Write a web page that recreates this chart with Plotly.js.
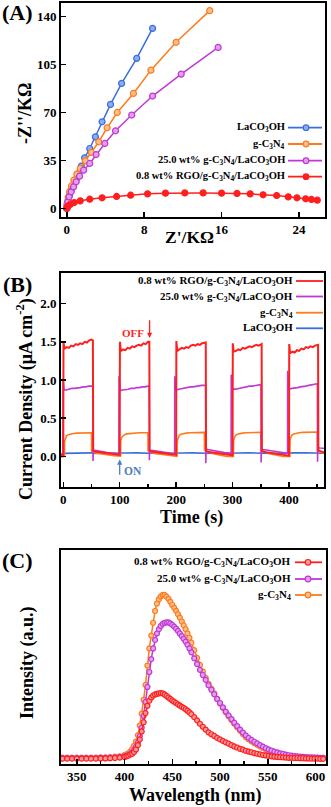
<!DOCTYPE html>
<html>
<head>
<meta charset="utf-8">
<script src="https://cdn.plot.ly/plotly-3.0.1.min.js"></script>
<style>
  html, body { margin: 0; padding: 0; background: #fff; }
  #chart { width: 331px; height: 807px; }
</style>
</head>
<body>
<div id="chart"></div>
<script>
// ---- (A) Nyquist plots, Z' and -Z'' in kOhm ----
const nyqBlueX = [0, 0.03, 0.14, 0.28, 0.45, 0.7, 0.97, 1.22, 1.5, 1.84, 2.37, 2.96, 3.65, 4.52, 5.67, 7.23, 8.87];
const nyqBlueY = [0, 2.4, 6, 9.7, 13.4, 17, 21.2, 25.6, 30.9, 37, 43.8, 52.3, 63.3, 76, 91.3, 109.6, 131.5];
const nyqOrangeX = [0, 0.03, 0.14, 0.28, 0.49, 0.73, 1.04, 1.39, 1.91, 2.54, 3.3, 4.17, 5.22, 6.89, 8.7, 11.3, 14.78];
const nyqOrangeY = [0, 3.7, 8, 12.2, 16.6, 20.7, 25.1, 29.2, 34.8, 40.9, 48.7, 58.9, 70.1, 84, 101, 121.3, 144.4];
const nyqPurpleX = [0, 0.02, 0.1, 0.24, 0.45, 0.7, 0.97, 1.32, 1.74, 2.37, 3.03, 3.93, 5.04, 6.71, 8.87, 11.83, 15.65];
const nyqPurpleY = [0, 1.2, 4.9, 8.5, 12.2, 15.8, 19.5, 23.6, 28, 32.9, 39.4, 47.5, 56.7, 68.2, 82.1, 98.1, 117.6];
const nyqRedX = [0, 0.1, 0.35, 0.77, 1.39, 2.37, 3.65, 5.15, 6.6, 8.35, 10.2, 12.2, 14.1, 16, 17.6, 18.96, 20.3, 21.7, 22.9, 23.8, 24.7, 25.3, 25.9];
const nyqRedY = [0.2, 1.7, 2.9, 4.4, 5.6, 6.8, 7.8, 8.8, 9.7, 10.7, 11.2, 11.4, 11.4, 11.2, 11, 10.7, 10, 9.5, 8.5, 7.8, 7.1, 6.6, 6.1];

// ---- (B) transient photocurrent, time (s) / current density ----
const tRed = [-4, 0, 0.4, 2, 6, 10, 14, 18, 22, 26, 30, 34, 38, 42, 46, 50, 52.5, 53, 56, 62, 70, 78, 86, 94, 99.5,
  100, 100.4, 102, 106, 110, 114, 118, 122, 126, 130, 134, 138, 142, 146, 150, 152.5, 153, 156, 162, 170, 178, 186, 194, 199.5,
  200, 200.4, 202, 206, 210, 214, 218, 222, 226, 230, 234, 238, 242, 246, 250, 252.5, 253, 256, 262, 270, 278, 286, 294, 299.5,
  300, 300.4, 302, 306, 310, 314, 318, 322, 326, 330, 334, 338, 342, 346, 350, 351.5, 352, 355, 362, 370, 378, 386, 394, 399.5,
  400, 400.4, 402, 406, 410, 414, 418, 422, 426, 430, 434, 438, 442, 446, 450, 451.5, 452, 455, 460, 466];
const jRed = [0.02, 0.02, 1.50, 1.41, 1.43, 1.42, 1.45, 1.44, 1.47, 1.46, 1.48, 1.47, 1.50, 1.49, 1.52, 1.53, 1.52, 0.08, 0.065, 0.06, 0.05, 0.045, 0.035, 0.025, 0.02,
  0.02, 1.50, 1.38, 1.40, 1.39, 1.42, 1.41, 1.44, 1.43, 1.45, 1.46, 1.45, 1.48, 1.47, 1.50, 1.50, 0.08, 0.065, 0.06, 0.05, 0.045, 0.035, 0.025, 0.02,
  0.02, 1.51, 1.38, 1.40, 1.42, 1.41, 1.43, 1.42, 1.45, 1.46, 1.45, 1.47, 1.46, 1.48, 1.49, 1.49, 0.07, 0.06, 0.055, 0.045, 0.04, 0.03, 0.02, 0.015,
  0.015, 1.48, 1.37, 1.38, 1.40, 1.39, 1.42, 1.41, 1.42, 1.44, 1.43, 1.45, 1.46, 1.45, 1.47, 1.47, 0.07, 0.06, 0.05, 0.04, 0.035, 0.025, 0.015, 0.01,
  0.01, 1.47, 1.35, 1.37, 1.36, 1.39, 1.38, 1.41, 1.40, 1.43, 1.42, 1.44, 1.43, 1.45, 1.46, 1.46, 0.08, 0.07, 0.055, 0.04];
const tPurple = [-4, -0.5, -0.3, 1.5, 5, 10, 15, 20, 25, 30, 35, 40, 45, 50, 52.5, 52.8, 53.2, 56, 62, 70, 78, 86, 94, 98.6,
  98.8, 100.8, 105, 110, 115, 120, 125, 130, 135, 140, 145, 150, 152.3, 152.6, 153, 156, 162, 170, 178, 186, 194, 197.4,
  197.6, 199.5, 205, 210, 215, 220, 225, 230, 235, 240, 245, 250, 252.3, 252.6, 253, 256, 262, 270, 278, 286, 294, 297.4,
  297.6, 299.5, 305, 310, 315, 320, 325, 330, 335, 340, 345, 350, 350.3, 350.6, 351, 354, 362, 370, 378, 386, 394, 397.4,
  397.6, 399.5, 405, 410, 415, 420, 425, 430, 435, 440, 445, 450, 450.3, 450.6, 451, 455, 460, 466];
const jPurple = [0.0, 0.0, 1.00, 0.87, 0.87, 0.88, 0.89, 0.89, 0.90, 0.90, 0.91, 0.91, 0.92, 0.92, 0.92, -0.06, 0.085, 0.08, 0.07, 0.06, 0.05, 0.045, 0.035, 0.03,
  1.05, 0.86, 0.87, 0.88, 0.88, 0.89, 0.89, 0.90, 0.90, 0.91, 0.91, 0.92, 0.92, -0.05, 0.085, 0.08, 0.075, 0.065, 0.055, 0.05, 0.04, 0.035,
  1.05, 0.87, 0.88, 0.89, 0.89, 0.90, 0.91, 0.91, 0.92, 0.92, 0.93, 0.93, 0.93, -0.09, 0.095, 0.09, 0.08, 0.07, 0.06, 0.05, 0.045, 0.04,
  1.07, 0.88, 0.88, 0.89, 0.90, 0.90, 0.91, 0.92, 0.92, 0.93, 0.93, 0.94, 0.94, -0.08, 0.095, 0.09, 0.08, 0.07, 0.06, 0.05, 0.045, 0.04,
  1.12, 0.88, 0.89, 0.90, 0.90, 0.91, 0.92, 0.92, 0.93, 0.94, 0.94, 0.95, 0.95, -0.07, 0.115, 0.11, 0.11, 0.105];
const tOrange = [-4, 2, 2.3, 4, 6, 9, 13, 18, 25, 35, 45, 50, 50.3, 55, 62, 70, 80, 90,
  101.5, 101.8, 103.5, 105.5, 108.5, 112.5, 117.5, 125, 135, 145, 150, 150.3, 155, 162, 170, 180, 190,
  201.5, 201.8, 203.5, 205.5, 208.5, 212.5, 217.5, 225, 235, 245, 250, 250.3, 255, 262, 270, 280, 290,
  301.5, 301.8, 303.5, 305.5, 308.5, 312.5, 317.5, 325, 335, 345, 350, 350.3, 355, 362, 370, 380, 390,
  401.5, 401.8, 403.5, 405.5, 408.5, 412.5, 417.5, 425, 435, 445, 450, 450.3, 455, 460, 466];
const jOrange = [0.0, 0.0, 0.20, 0.25, 0.27, 0.285, 0.295, 0.30, 0.305, 0.31, 0.31, 0.31, 0.065, 0.05, 0.04, 0.03, 0.02, 0.01,
  0.005, 0.20, 0.25, 0.27, 0.285, 0.295, 0.30, 0.305, 0.31, 0.31, 0.31, 0.075, 0.055, 0.04, 0.03, 0.02, 0.005,
  0.0, 0.20, 0.25, 0.275, 0.29, 0.30, 0.305, 0.31, 0.31, 0.315, 0.315, 0.085, 0.065, 0.045, 0.03, 0.015, 0.0,
  0.0, 0.20, 0.25, 0.275, 0.29, 0.30, 0.305, 0.31, 0.315, 0.315, 0.315, 0.085, 0.065, 0.045, 0.03, 0.015, 0.0,
  0.0, 0.20, 0.255, 0.28, 0.295, 0.305, 0.31, 0.315, 0.32, 0.32, 0.32, 0.07, 0.055, 0.04, 0.03];
const tBlue = [-4, 0, 1, 10, 30, 50, 53, 75, 99, 100, 110, 130, 150, 153, 175, 199, 200, 210, 230, 250, 253, 275, 299,
  300, 310, 330, 350, 353, 375, 399, 400, 410, 430, 450, 453, 466];
const jBlue = [0.03, 0.03, 0.04, 0.043, 0.045, 0.047, 0.04, 0.038, 0.037, 0.04, 0.044, 0.046, 0.048, 0.041, 0.039, 0.038,
  0.04, 0.045, 0.047, 0.048, 0.041, 0.039, 0.038, 0.04, 0.045, 0.047, 0.049, 0.042, 0.04, 0.039,
  0.041, 0.046, 0.048, 0.05, 0.043, 0.041];

// ---- (C) PL spectra, wavelength (nm) / intensity (a.u.) ----
const wavelength = [335, 340, 345, 350, 355, 360, 365, 370, 375, 380, 385, 390, 395,
  400, 402, 404, 406, 408, 410, 412, 414, 416, 418,
  420, 422, 424, 426, 428, 430, 432, 434, 436, 438,
  440, 442, 444, 446, 448, 450, 452, 454, 456, 458,
  460, 462, 464, 466, 468, 470,
  473, 476, 479, 482, 485, 488, 491, 494, 497, 500,
  503, 506, 509, 512, 515, 518, 521, 524, 527, 530,
  533, 536, 539, 542, 545, 548, 551, 554, 557, 560,
  563, 566, 569, 572, 575, 578, 581, 584, 587, 590,
  593, 596, 599, 602, 605, 608];
const plOrange = [0.030, 0.030, 0.030, 0.030, 0.030, 0.030, 0.030, 0.030, 0.031, 0.031, 0.032, 0.034, 0.036,
  0.042, 0.045, 0.05, 0.058, 0.07, 0.085, 0.105, 0.135, 0.18, 0.235,
  0.30, 0.37, 0.46, 0.54, 0.60, 0.66, 0.715, 0.75, 0.77, 0.783,
  0.79, 0.79, 0.782, 0.772, 0.758, 0.743, 0.73, 0.716, 0.70, 0.684,
  0.666, 0.648, 0.63, 0.61, 0.59, 0.567,
  0.532, 0.496, 0.463, 0.432, 0.402, 0.375, 0.352, 0.33, 0.305, 0.283,
  0.262, 0.242, 0.223, 0.205, 0.188, 0.171, 0.155, 0.14, 0.126, 0.115,
  0.106, 0.097, 0.09, 0.082, 0.075, 0.068, 0.062, 0.057, 0.053, 0.049,
  0.046, 0.043, 0.040, 0.038, 0.036, 0.035, 0.033, 0.032, 0.031, 0.031,
  0.030, 0.030, 0.030, 0.029, 0.029, 0.029];
const plPurple = [0.028, 0.028, 0.028, 0.028, 0.028, 0.028, 0.028, 0.028, 0.029, 0.029, 0.030, 0.031, 0.033,
  0.036, 0.038, 0.041, 0.047, 0.055, 0.065, 0.08, 0.10, 0.13, 0.17,
  0.225, 0.29, 0.36, 0.43, 0.49, 0.54, 0.58, 0.61, 0.63, 0.645,
  0.655, 0.66, 0.662, 0.662, 0.657, 0.65, 0.642, 0.633, 0.622, 0.61,
  0.598, 0.585, 0.572, 0.557, 0.54, 0.522,
  0.494, 0.467, 0.44, 0.416, 0.393, 0.368, 0.347, 0.326, 0.304, 0.285,
  0.265, 0.245, 0.227, 0.21, 0.193, 0.177, 0.161, 0.147, 0.134, 0.122,
  0.113, 0.104, 0.096, 0.088, 0.081, 0.074, 0.068, 0.063, 0.058, 0.054,
  0.05, 0.047, 0.044, 0.041, 0.039, 0.037, 0.036, 0.034, 0.033, 0.032,
  0.031, 0.031, 0.030, 0.030, 0.029, 0.029];
const plRed = [0.025, 0.025, 0.025, 0.025, 0.025, 0.025, 0.025, 0.025, 0.026, 0.026, 0.027, 0.028, 0.030,
  0.033, 0.036, 0.039, 0.044, 0.048, 0.056, 0.068, 0.088, 0.115, 0.152,
  0.195, 0.238, 0.272, 0.296, 0.311, 0.32, 0.325, 0.328, 0.33, 0.331,
  0.33, 0.325, 0.318, 0.311, 0.304, 0.297, 0.291, 0.285, 0.279, 0.273,
  0.267, 0.262, 0.256, 0.249, 0.241, 0.233,
  0.219, 0.204, 0.188, 0.174, 0.161, 0.148, 0.139, 0.131, 0.122, 0.115,
  0.108, 0.101, 0.095, 0.088, 0.082, 0.077, 0.071, 0.067, 0.062, 0.058,
  0.055, 0.051, 0.048, 0.045, 0.042, 0.040, 0.038, 0.036, 0.034, 0.033,
  0.032, 0.031, 0.030, 0.029, 0.029, 0.028, 0.028, 0.027, 0.027, 0.026,
  0.026, 0.025, 0.025, 0.025, 0.024, 0.024];

const nRed = "0.8 wt% RGO/g-C<sub>3</sub>N<sub>4</sub>/LaCO<sub>3</sub>OH";
const nPurple = "25.0 wt% g-C<sub>3</sub>N<sub>4</sub>/LaCO<sub>3</sub>OH";
const nOrange = "g-C<sub>3</sub>N<sub>4</sub>";
const nBlue = "LaCO<sub>3</sub>OH";

const C = {
  blue: "#3a6ee0", blueL: "#8eaaf2",
  orange: "#ff7a1a", orangeL: "#ffc08f",
  purple: "#c038d6", purpleL: "#e2a0ec",
  red: "#ff1f1f", redL: "#ff9a9a"
};
const SERIF = "Liberation Serif, Times New Roman, serif";
const W = 331, H = 807;
const px = v => v / W;
const py = v => 1 - v / H;

function sym(x, y, ax, ay, color, fill, size) {
  return {
    x, y, xaxis: "x" + ax, yaxis: "y" + ay, type: "scatter", mode: "lines+markers",
    line: { color, width: 1.5 },
    marker: { size, color: fill, line: { color, width: 1.2 } },
    hoverinfo: "skip", showlegend: false
  };
}

const traces = [
  sym(nyqBlueX, nyqBlueY, "", "", C.blue, C.blueL, 6),
  sym(nyqOrangeX, nyqOrangeY, "", "", C.orange, C.orangeL, 6),
  sym(nyqPurpleX, nyqPurpleY, "", "", C.purple, C.purpleL, 6),
  sym(nyqRedX, nyqRedY, "", "", C.red, C.red, 6),
  { x: tBlue, y: jBlue, xaxis: "x2", yaxis: "y2", mode: "lines", line: { color: C.blue, width: 1.6 }, showlegend: false },
  { x: tOrange, y: jOrange, xaxis: "x2", yaxis: "y2", mode: "lines", line: { color: C.orange, width: 1.6 }, showlegend: false },
  { x: tPurple, y: jPurple, xaxis: "x2", yaxis: "y2", mode: "lines", line: { color: C.purple, width: 1.6 }, showlegend: false },
  { x: tRed, y: jRed, xaxis: "x2", yaxis: "y2", mode: "lines", line: { color: C.red, width: 2 }, showlegend: false },
  sym(wavelength, plOrange, "3", "3", C.orange, C.orangeL, 5),
  sym(wavelength, plPurple, "3", "3", C.purple, C.purpleL, 5),
  sym(wavelength, plRed, "3", "3", C.red, C.redL, 5)
];

const tickFont = { family: SERIF, size: 13, color: "#000", weight: "bold" };
function axis(extra) {
  return {
    showline: true, linecolor: "#000", linewidth: 1.8, mirror: true,
    ticks: "inside", ticklen: 5, tickwidth: 1.5, tickcolor: "#000",
    showgrid: false, zeroline: false, tickfont: tickFont, fixedrange: true,
    ...extra
  };
}

const annotations = [];
const shapes = [];
function text(t, xp, yp, size, opts = {}) {
  annotations.push({
    text: t, xref: "paper", yref: "paper", x: px(xp), y: py(yp), showarrow: false,
    xanchor: "center", yanchor: "middle",
    font: { family: SERIF, size, color: "#000", weight: "bold" }, ...opts
  });
}
function legendRow(label, yc, textRight, x0, x1, color, fill, size, markerX) {
  text(label, textRight, yc, size, { xanchor: "right" });
  shapes.push({ type: "line", xref: "paper", yref: "paper", x0: px(x0), x1: px(x1), y0: py(yc), y1: py(yc),
    line: { color, width: 1.8 } });
  if (markerX) {
    const r = 2.8;
    shapes.push({ type: "circle", xref: "paper", yref: "paper", x0: px(markerX - r), x1: px(markerX + r),
      y0: py(yc + r), y1: py(yc - r), fillcolor: fill, line: { color, width: 1.2 } });
  }
}

// panel letters and axis titles
text("(A)", 17, 13, 22);
text("(B)", 17, 284, 22);
text("(C)", 17, 560, 22);
text("Z'/KΩ", 189, 237, 17.5);
text("-Z''/KΩ", 25, 114, 18, { textangle: -90 });
text("Time (s)", 191, 517, 18);
text("Current Density (μA cm<sup>-2</sup>)", 25, 399, 18, { textangle: -90 });
text("Wavelength (nm)", 195, 795, 18);
text("Intensity (a.u.)", 27, 663, 18, { textangle: -90 });

// legends
legendRow(nBlue, 127.7, 287, 288, 322, C.blue, C.blueL, 10.5, 306);
legendRow(nOrange, 144, 287, 288, 322, C.orange, C.orangeL, 10.5, 306);
legendRow(nPurple, 160.7, 287, 288, 322, C.purple, C.purpleL, 10.5, 306);
legendRow(nRed, 176.7, 287, 288, 322, C.red, C.red, 10.5, 306);

legendRow(nRed, 281, 295, 296, 323, C.red, null, 10.9, 0);
legendRow(nPurple, 296.5, 295, 296, 323, C.purple, null, 10.9, 0);
legendRow(nOrange, 312.7, 295, 296, 323, C.orange, null, 10.9, 0);
legendRow(nBlue, 328.3, 295, 296, 323, C.blue, null, 10.9, 0);

legendRow(nRed, 562.3, 293, 295, 322, C.red, C.redL, 11, 308);
legendRow(nPurple, 579, 293, 295, 322, C.purple, C.purpleL, 11, 308);
legendRow(nOrange, 595, 293, 295, 322, C.orange, C.orangeL, 11, 308);

// light on/off markers in (B)
annotations.push(
  { xref: "x2", yref: "y2", axref: "x2", ayref: "y2", x: 153, y: 1.55, ax: 153, ay: 1.80, text: "",
    showarrow: true, arrowhead: 2, arrowsize: 0.8, arrowwidth: 1.3, arrowcolor: C.red },
  { xref: "x2", yref: "y2", x: 123, y: 1.62, text: "OFF", showarrow: false,
    font: { family: SERIF, size: 11, color: C.red, weight: "bold" } },
  { xref: "x2", yref: "y2", axref: "x2", ayref: "y2", x: 100, y: -0.04, ax: 100, ay: -0.26, text: "",
    showarrow: true, arrowhead: 2, arrowsize: 0.8, arrowwidth: 1.3, arrowcolor: "#4f7fbf" },
  { xref: "x2", yref: "y2", x: 124, y: -0.185, text: "ON", showarrow: false,
    font: { family: SERIF, size: 11.5, color: "#4f7fbf", weight: "bold" } }
);

const layout = {
  width: W, height: H,
  margin: { l: 0, r: 0, t: 0, b: 0 },
  paper_bgcolor: "#fff", plot_bgcolor: "#fff",
  showlegend: false,
  font: { family: SERIF, color: "#000" },
  xaxis: axis({ domain: [px(61), px(325)], anchor: "y", range: [-0.6, 26.7], tick0: 0, dtick: 8 }),
  yaxis: axis({ domain: [py(217), py(3)], anchor: "x", range: [-6.2, 150], tick0: 0, dtick: 35 }),
  xaxis2: axis({ domain: [px(61), px(324)], anchor: "y2", range: [-4, 462], tick0: 0, dtick: 100,
    minor: { dtick: 50, ticks: "inside", ticklen: 3, tickcolor: "#000" } }),
  yaxis2: axis({ domain: [py(487), py(273)], anchor: "x2", range: [-0.4, 2.4], tick0: 0, dtick: 0.5, tickformat: ".1f" }),
  xaxis3: axis({ domain: [px(61), px(326)], anchor: "y3", range: [333.5, 611], tick0: 350, dtick: 50,
    minor: { dtick: 25, ticks: "inside", ticklen: 3, tickcolor: "#000" } }),
  yaxis3: axis({ domain: [py(764), py(550)], anchor: "x3", range: [0, 1], ticks: "", showticklabels: false }),
  annotations, shapes
};

Plotly.newPlot("chart", traces, layout, { displayModeBar: false, staticPlot: true });
</script>
</body>
</html>
